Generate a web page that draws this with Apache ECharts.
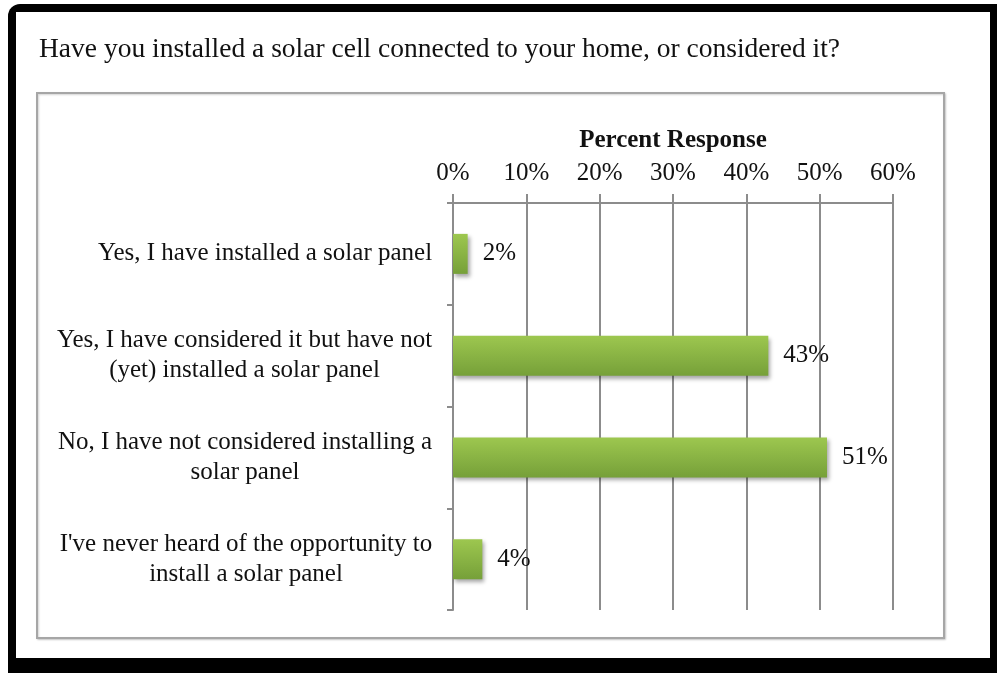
<!DOCTYPE html>
<html>
<head>
<meta charset="utf-8">
<script src="https://cdn.jsdelivr.net/npm/echarts@6/dist/echarts.min.js"></script>
<style>
  html, body { margin: 0; padding: 0; background: #ffffff; }
  #chart { width: 997px; height: 673px; }
</style>
</head>
<body>
<div id="chart"></div>
<script>
// Survey answers and their share of responses (percent)
const categories = [
  ['Yes, I have installed a solar panel'],
  ['Yes, I have considered it but have not', '(yet) installed a solar panel'],
  ['No, I have not considered installing a', 'solar panel'],
  ["I've never heard of the opportunity to", 'install a solar panel']
];
const responses = [2, 43, 51, 4];
const axisTicks = [0, 10, 20, 30, 40, 50, 60];

const titleText = 'Have you installed a solar cell connected to your home, or considered it?';
const axisTitle = 'Percent Response';

const SERIF = '"Liberation Serif", "Times New Roman", serif';
const LABEL_SIZE = 25;
const INK = '#111111';

// Measure each label's widest line so its lines can be centred on one another
const ctx = document.createElement('canvas').getContext('2d');
ctx.font = LABEL_SIZE + 'px ' + SERIF;
const rich = {};
categories.forEach((lines, i) => {
  const w = Math.max.apply(null, lines.map(l => ctx.measureText(l).width));
  rich['c' + i] = {
    width: Math.ceil(w) + 1,
    align: 'center',
    fontFamily: SERIF,
    fontSize: LABEL_SIZE,
    lineHeight: 30,
    color: INK
  };
});
const catKeys = categories.map((_, i) => String(i));

const chart = echarts.init(document.getElementById('chart'), null, { renderer: 'canvas' });

chart.setOption({
  animation: false,
  backgroundColor: '#ffffff',
  graphic: [
    // outer black frame with heavier bottom/right edge
    { type: 'rect', z: -10, shape: { x: 8, y: 4, width: 1000, height: 680, r: 12 }, style: { fill: '#000000' } },
    { type: 'rect', z: -9, shape: { x: 16, y: 12, width: 974, height: 646 }, style: { fill: '#ffffff' } },
    // chart area border
    { type: 'rect', z: -8, shape: { x: 37, y: 93, width: 907, height: 545 },
      style: { fill: '#ffffff', stroke: '#a6a6a6', lineWidth: 2,
               shadowColor: 'rgba(0,0,0,0.18)', shadowBlur: 2, shadowOffsetX: 1, shadowOffsetY: 1 } }
  ],
  title: {
    text: titleText,
    left: 34,
    top: 31,
    textStyle: { fontFamily: SERIF, fontSize: 27.5, fontWeight: 'normal', color: INK }
  },
  grid: { left: 453, right: 104, top: 203, bottom: 63, containLabel: false },
  xAxis: {
    type: 'value',
    position: 'top',
    min: axisTicks[0],
    max: axisTicks[axisTicks.length - 1],
    interval: axisTicks[1] - axisTicks[0],
    name: axisTitle,
    nameLocation: 'middle',
    nameGap: 50,
    nameTextStyle: { fontFamily: SERIF, fontSize: 25, fontWeight: 'bold', color: INK },
    axisLine: { show: true, lineStyle: { color: '#8c8c8c', width: 2 } },
    axisTick: { show: true, length: 9, lineStyle: { color: '#8c8c8c', width: 2 } },
    axisLabel: {
      margin: 17,
      formatter: '{value}%',
      fontFamily: SERIF, fontSize: LABEL_SIZE, color: INK
    },
    splitLine: { show: true, lineStyle: { color: '#8c8c8c', width: 2 } }
  },
  yAxis: {
    type: 'category',
    inverse: true,
    data: catKeys,
    axisLine: { show: true, lineStyle: { color: '#8c8c8c', width: 2 } },
    axisTick: { show: true, length: 6, lineStyle: { color: '#8c8c8c', width: 2 } },
    axisLabel: {
      margin: 20,
      align: 'right',
      formatter: (v) => {
        const i = Number(v);
        return categories[i].map(l => '{c' + i + '|' + l + '}').join('\n');
      },
      rich: rich
    },
    splitLine: { show: false }
  },
  series: [{
    type: 'bar',
    data: responses,
    barWidth: 40,
    itemStyle: {
      color: new echarts.graphic.LinearGradient(0, 0, 0, 1, [
        { offset: 0, color: '#9dc74f' },
        { offset: 1, color: '#76a039' }
      ]),
      shadowColor: 'rgba(0,0,0,0.35)',
      shadowBlur: 4,
      shadowOffsetX: 2,
      shadowOffsetY: 3
    },
    label: {
      show: true,
      position: 'right',
      distance: 15,
      formatter: '{c}%',
      fontFamily: SERIF, fontSize: LABEL_SIZE, color: INK
    }
  }]
});
</script>
</body>
</html>
